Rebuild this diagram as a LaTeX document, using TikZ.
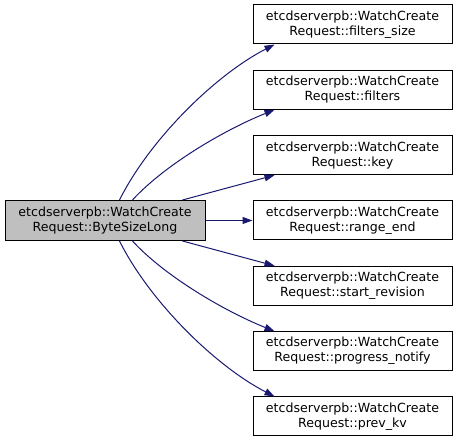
\documentclass[tikz,border=0pt]{standalone}
\usepackage{fontspec}
\setmainfont{DejaVu Sans}
\usetikzlibrary{arrows.meta}
\definecolor{edgeblue}{HTML}{191970}
\definecolor{focusgray}{HTML}{BFBFBF}
\tikzset{
  fn/.style={draw=black, line width=1pt, fill=white, minimum width=199pt, minimum height=39pt,
    inner sep=0pt, align=center, font=\fontsize{12.6}{15}\selectfont},
  focus/.style={fn, fill=focusgray, minimum width=200pt, minimum height=40pt},
  call/.style={draw=edgeblue, line width=1pt, -{Triangle[length=10pt,width=7pt]}, color=edgeblue}
}
\begin{document}
\begin{tikzpicture}[x=1pt,y=-1pt]
\useasboundingbox (0,0) rectangle (459,443);
\node[focus] (L) at (105,220.5) {etcdserverpb::WatchCreate\\Request::ByteSizeLong};
\node[fn] (R1) at (352.5,24.5) {etcdserverpb::WatchCreate\\Request::filters\_size};
\node[fn] (R2) at (352.5,89.8) {etcdserverpb::WatchCreate\\Request::filters};
\node[fn] (R3) at (352.5,155.2) {etcdserverpb::WatchCreate\\Request::key};
\node[fn] (R4) at (352.5,220.5) {etcdserverpb::WatchCreate\\Request::range\_end};
\node[fn] (R5) at (352.5,285.8) {etcdserverpb::WatchCreate\\Request::start\_revision};
\node[fn] (R6) at (352.5,351.2) {etcdserverpb::WatchCreate\\Request::progress\_notify};
\node[fn] (R7) at (352.5,416.5) {etcdserverpb::WatchCreate\\Request::prev\_kv};
\draw[call] ([xshift=115]L.north west) .. controls +(30,-60) and +(-60,31) .. ([xshift=22]R1.south west);
\draw[call] ([xshift=128]L.north west) .. controls +(32,-35) and +(-50,20) .. ([xshift=22]R2.south west);
\draw[call] ([xshift=178]L.north west) -- ([xshift=22]R3.south west);
\draw[call] (L.east) -- (R4.west);
\draw[call] ([xshift=178]L.south west) -- ([xshift=22]R5.north west);
\draw[call] ([xshift=128]L.south west) .. controls +(32,35) and +(-50,-20) .. ([xshift=22]R6.north west);
\draw[call] ([xshift=115]L.south west) .. controls +(30,60) and +(-60,-31) .. ([xshift=22]R7.north west);
\end{tikzpicture}
\end{document}
